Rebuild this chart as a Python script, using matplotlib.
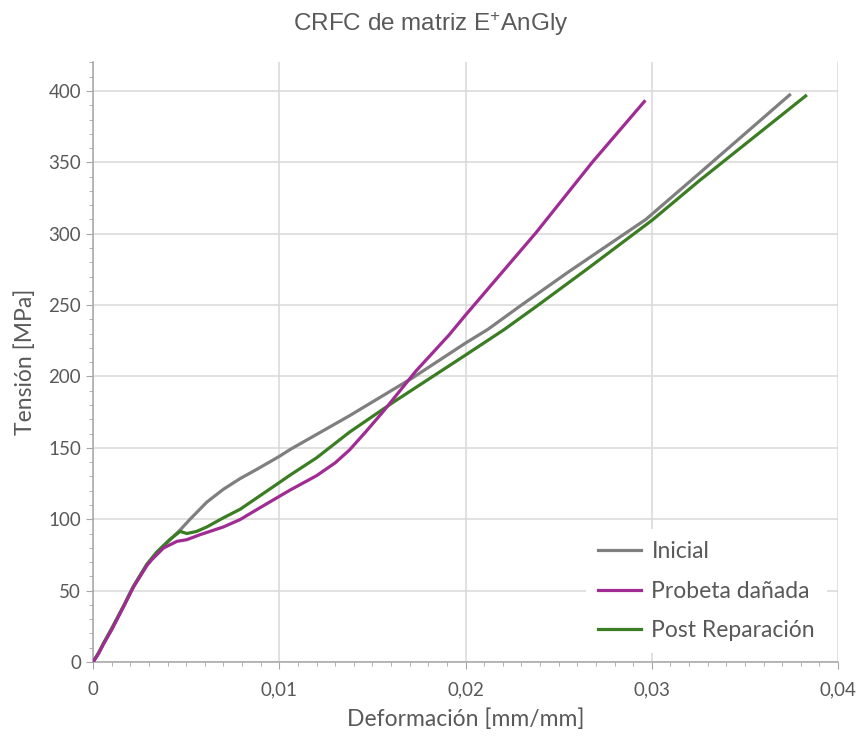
import matplotlib
matplotlib.use("Agg")
import matplotlib.pyplot as plt
from matplotlib.ticker import MultipleLocator, FuncFormatter

# Curvas tension-deformacion (deformacion en mm/mm, tension en MPa)
inicial_x = [0, 0.0003, 0.00056, 0.001, 0.00163, 0.00217, 0.00289, 0.00342, 0.00414,
             0.00468, 0.00521, 0.00611, 0.007, 0.0079, 0.0088, 0.01, 0.0106, 0.01377,
             0.01715, 0.02, 0.0212, 0.023, 0.0255, 0.02968, 0.0325, 0.0374]
inicial_y = [0, 6, 12.9, 23, 38.7, 52.8, 68, 76.3, 85.7,
             92.5, 100, 112, 121, 128.5, 135, 144, 149, 172.5,
             199, 223.4, 233, 250, 273, 310, 341.7, 397.2]

danada_x = [0, 0.0003, 0.00056, 0.001, 0.00163, 0.00217, 0.00289, 0.00315, 0.00378,
            0.0045, 0.00504, 0.00575, 0.007, 0.0079, 0.0088, 0.01, 0.01059, 0.012,
            0.013, 0.01377, 0.01466, 0.01555, 0.01733, 0.01911, 0.02, 0.02379,
            0.02682, 0.0296]
danada_y = [0, 6, 12.5, 22.5, 38.5, 52.5, 67.5, 71.6, 79.8,
            84.5, 85.7, 89.2, 94.6, 99.8, 106.8, 116, 120.5, 130.5,
            139.5, 148.5, 161.5, 175, 203.7, 229, 243, 300.8,
            350.3, 392.6]

reparada_x = [0, 0.0003, 0.00056, 0.001, 0.00163, 0.00217, 0.00289, 0.00342, 0.00414,
              0.00468, 0.00504, 0.00557, 0.00611, 0.007, 0.0079, 0.0088, 0.0097, 0.01059,
              0.012, 0.01377, 0.01609, 0.02, 0.02209, 0.0239, 0.0265, 0.03003, 0.03254,
              0.03826]
reparada_y = [0, 6.5, 13, 23.5, 39, 53, 68.5, 77, 86,
              91.5, 90, 91.5, 94.6, 101, 107, 115, 123, 131,
              143, 161, 181.7, 215, 233, 250, 275, 309.6, 337,
              396.5]

text_color = "#595959"
plt.rcParams["font.family"] = ["Lato", "DejaVu Sans"]
plt.rcParams["mathtext.default"] = "regular"

fig = plt.figure(figsize=(8.62, 7.42), dpi=100)
ax = fig.add_axes([0.1079, 0.1078, 0.8643, 0.8081])

ax.plot(inicial_x, inicial_y, color="#7f7f7f", lw=2.3, label="Inicial", zorder=3)
ax.plot(danada_x, danada_y, color="#a02b93", lw=2.3, label="Probeta dañada", zorder=4)
ax.plot(reparada_x, reparada_y, color="#3b7d23", lw=2.3, label="Post Reparación", zorder=3.5)

ax.set_xlim(0, 0.04)
ax.set_ylim(0, 420)
ax.xaxis.set_major_locator(MultipleLocator(0.01))
ax.xaxis.set_minor_locator(MultipleLocator(0.001))
ax.yaxis.set_major_locator(MultipleLocator(50))
ax.yaxis.set_minor_locator(MultipleLocator(10))
ax.yaxis.set_major_formatter(FuncFormatter(lambda v, p: "%d" % v if v <= 400 else ""))
ax.xaxis.set_major_formatter(FuncFormatter(lambda v, p: "0" if v == 0 else ("%.2f" % v).replace(".", ",")))

ax.grid(True, which="major", color="#d9d9d9", lw=1.1)
ax.set_axisbelow(True)
for s in ["top", "right"]:
    ax.spines[s].set_visible(False)
for s in ["left", "bottom"]:
    ax.spines[s].set_color("#a6a6a6")
    ax.spines[s].set_linewidth(1.1)

ax.tick_params(which="both", colors="#a6a6a6", labelcolor=text_color, labelsize=13.5)
ax.tick_params(which="major", length=5)
ax.tick_params(which="minor", length=3)
ax.tick_params(axis="x", pad=9)

ax.set_xlabel("Deformación [mm/mm]", fontsize=16.5, color=text_color, labelpad=7)
ax.set_ylabel("Tensión [MPa]", fontsize=16.5, color=text_color, labelpad=9)

fig.text(0.5, 0.968, "CRFC de matriz E$^{+}$AnGly", ha="center", va="center",
         fontsize=17.5, color=text_color, family="Liberation Sans")

leg = ax.legend(loc="lower right", bbox_to_anchor=(1.0, -0.004), frameon=True,
                fontsize=16.5, handlelength=1.9, handletextpad=0.45, labelspacing=0.82,
                borderpad=0.5)
leg.get_frame().set_edgecolor("none")
leg.get_frame().set_facecolor("white")
leg.get_frame().set_alpha(1)
for t in leg.get_texts():
    t.set_color(text_color)

fig.savefig("out.png", dpi=100)
